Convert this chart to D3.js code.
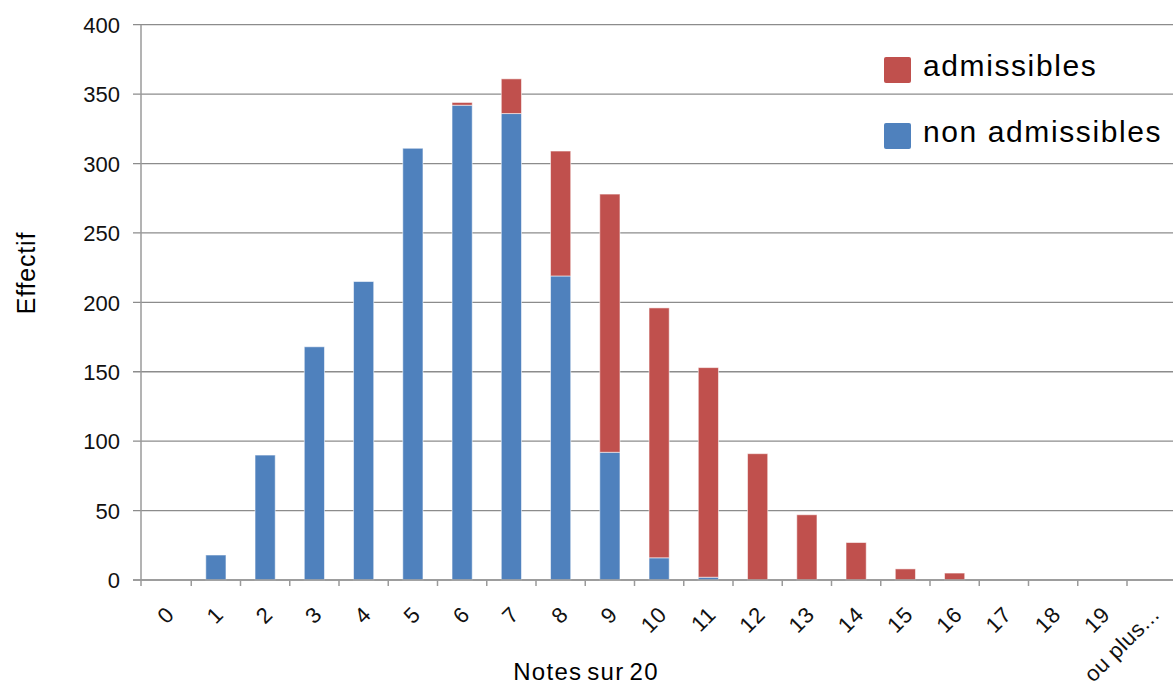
<!DOCTYPE html>
<html>
<head>
<meta charset="utf-8">
<script src="https://cdn.jsdelivr.net/npm/d3@7"></script>
<style>
  html, body { margin: 0; padding: 0; background: #fff; }
  svg { display: block; font-family: "Liberation Sans", Arial, sans-serif; }
</style>
</head>
<body>
<svg id="chart" width="1173" height="686"></svg>
<script>
// Distribution des notes sur 20
const categories = ["0","1","2","3","4","5","6","7","8","9","10","11","12","13","14","15","16","17","18","19","ou plus..."];
const nonAdmissibles = [0, 18, 90, 168, 215, 311, 342, 336, 219, 92, 16, 2, 0, 0, 0, 0, 0, 0, 0, 0, 0];
const admissibles    = [0, 0, 0, 0, 0, 0, 2, 25, 90, 186, 180, 151, 91, 47, 27, 8, 5, 0, 0, 0, 0];
const yTicks = [0, 50, 100, 150, 200, 250, 300, 350, 400];
const seriesNames = ["admissibles", "non admissibles"];
const colors = { "admissibles": "#C0504D", "non admissibles": "#4F81BD" };

const svg = d3.select("#chart");
const W = 1173;
const plot = { left: 141, top: 24.7, bottom: 580 };
const step = 49.25;

const x = d3.scaleBand()
  .domain(categories)
  .range([plot.left + 1, plot.left + 1 + step * categories.length])
  .paddingInner(0.59)
  .paddingOuter(0.295);

const y = d3.scaleLinear().domain([0, 400]).range([plot.bottom, plot.top]);

// horizontal gridlines (with their ticks on the left)
svg.append("g")
  .selectAll("line")
  .data(yTicks)
  .join("line")
  .attr("x1", plot.left - 8)
  .attr("x2", W)
  .attr("y1", d => y(d))
  .attr("y2", d => y(d))
  .attr("stroke", "#8c8c8c")
  .attr("stroke-width", 1.3);

// y tick labels
svg.append("g")
  .selectAll("text")
  .data(yTicks)
  .join("text")
  .attr("x", 120)
  .attr("y", d => y(d) + 8.2)
  .attr("text-anchor", "end")
  .attr("font-size", 22)
  .attr("fill", "#111")
  .text(d => d);

// stacked bars
const rows = categories.map((c, i) => ({ cat: c, "non admissibles": nonAdmissibles[i], "admissibles": admissibles[i] }));
const stack = d3.stack().keys(["non admissibles", "admissibles"])(rows);

svg.append("g")
  .selectAll("g")
  .data(stack)
  .join("g")
  .attr("fill", d => colors[d.key])
  .selectAll("rect")
  .data(d => d.filter(p => p[1] - p[0] > 0))
  .join("rect")
  .attr("x", d => x(d.data.cat))
  .attr("width", x.bandwidth())
  .attr("y", d => y(d[1]))
  .attr("height", d => y(d[0]) - y(d[1]))
  .attr("stroke", "rgba(255,255,255,0.55)")
  .attr("stroke-width", 1);

// axes lines
svg.append("line")
  .attr("x1", plot.left).attr("x2", plot.left)
  .attr("y1", plot.top).attr("y2", plot.bottom + 6)
  .attr("stroke", "#9a9a9a").attr("stroke-width", 1.5);
svg.append("line")
  .attr("x1", plot.left - 8).attr("x2", W)
  .attr("y1", plot.bottom).attr("y2", plot.bottom)
  .attr("stroke", "#9a9a9a").attr("stroke-width", 1.5);

// category boundary ticks
const boundaries = d3.range(categories.length).map(i => x(categories[i]) - x.step() * x.paddingOuter());
svg.append("g")
  .selectAll("line")
  .data(boundaries.slice(1))
  .join("line")
  .attr("x1", d => d).attr("x2", d => d)
  .attr("y1", plot.bottom).attr("y2", plot.bottom + 6)
  .attr("stroke", "#9a9a9a").attr("stroke-width", 1.5);

// rotated category labels
svg.append("g")
  .selectAll("text")
  .data(categories)
  .join("text")
  .attr("transform", d => `translate(${x(d) + x.bandwidth() / 2 + 9},${plot.bottom + 36}) rotate(-45)`)
  .attr("text-anchor", "end")
  .attr("font-size", 22)
  .attr("letter-spacing", 0.6)
  .attr("fill", "#111")
  .text(d => d);

// axis titles
svg.append("text")
  .attr("transform", "translate(35,273) rotate(-90)")
  .attr("text-anchor", "middle")
  .attr("font-size", 25)
  .attr("letter-spacing", 0.8)
  .attr("fill", "#000")
  .text("Effectif");

svg.append("text")
  .attr("x", 586)
  .attr("y", 680)
  .attr("text-anchor", "middle")
  .attr("font-size", 24)
  .attr("letter-spacing", 1.3)
  .attr("word-spacing", -3)
  .attr("fill", "#000")
  .text("Notes sur 20");

// legend
const legend = svg.append("g")
  .selectAll("g")
  .data(seriesNames)
  .join("g")
  .attr("transform", (d, i) => `translate(884,${57 + i * 66})`);
legend.append("rect")
  .attr("width", 27).attr("height", 26).attr("rx", 2)
  .attr("fill", d => colors[d]);
legend.append("text")
  .attr("x", 39)
  .attr("y", 18.5)
  .attr("font-size", 30)
  .attr("letter-spacing", 1.6)
  .attr("fill", "#000")
  .text(d => d);
</script>
</body>
</html>
